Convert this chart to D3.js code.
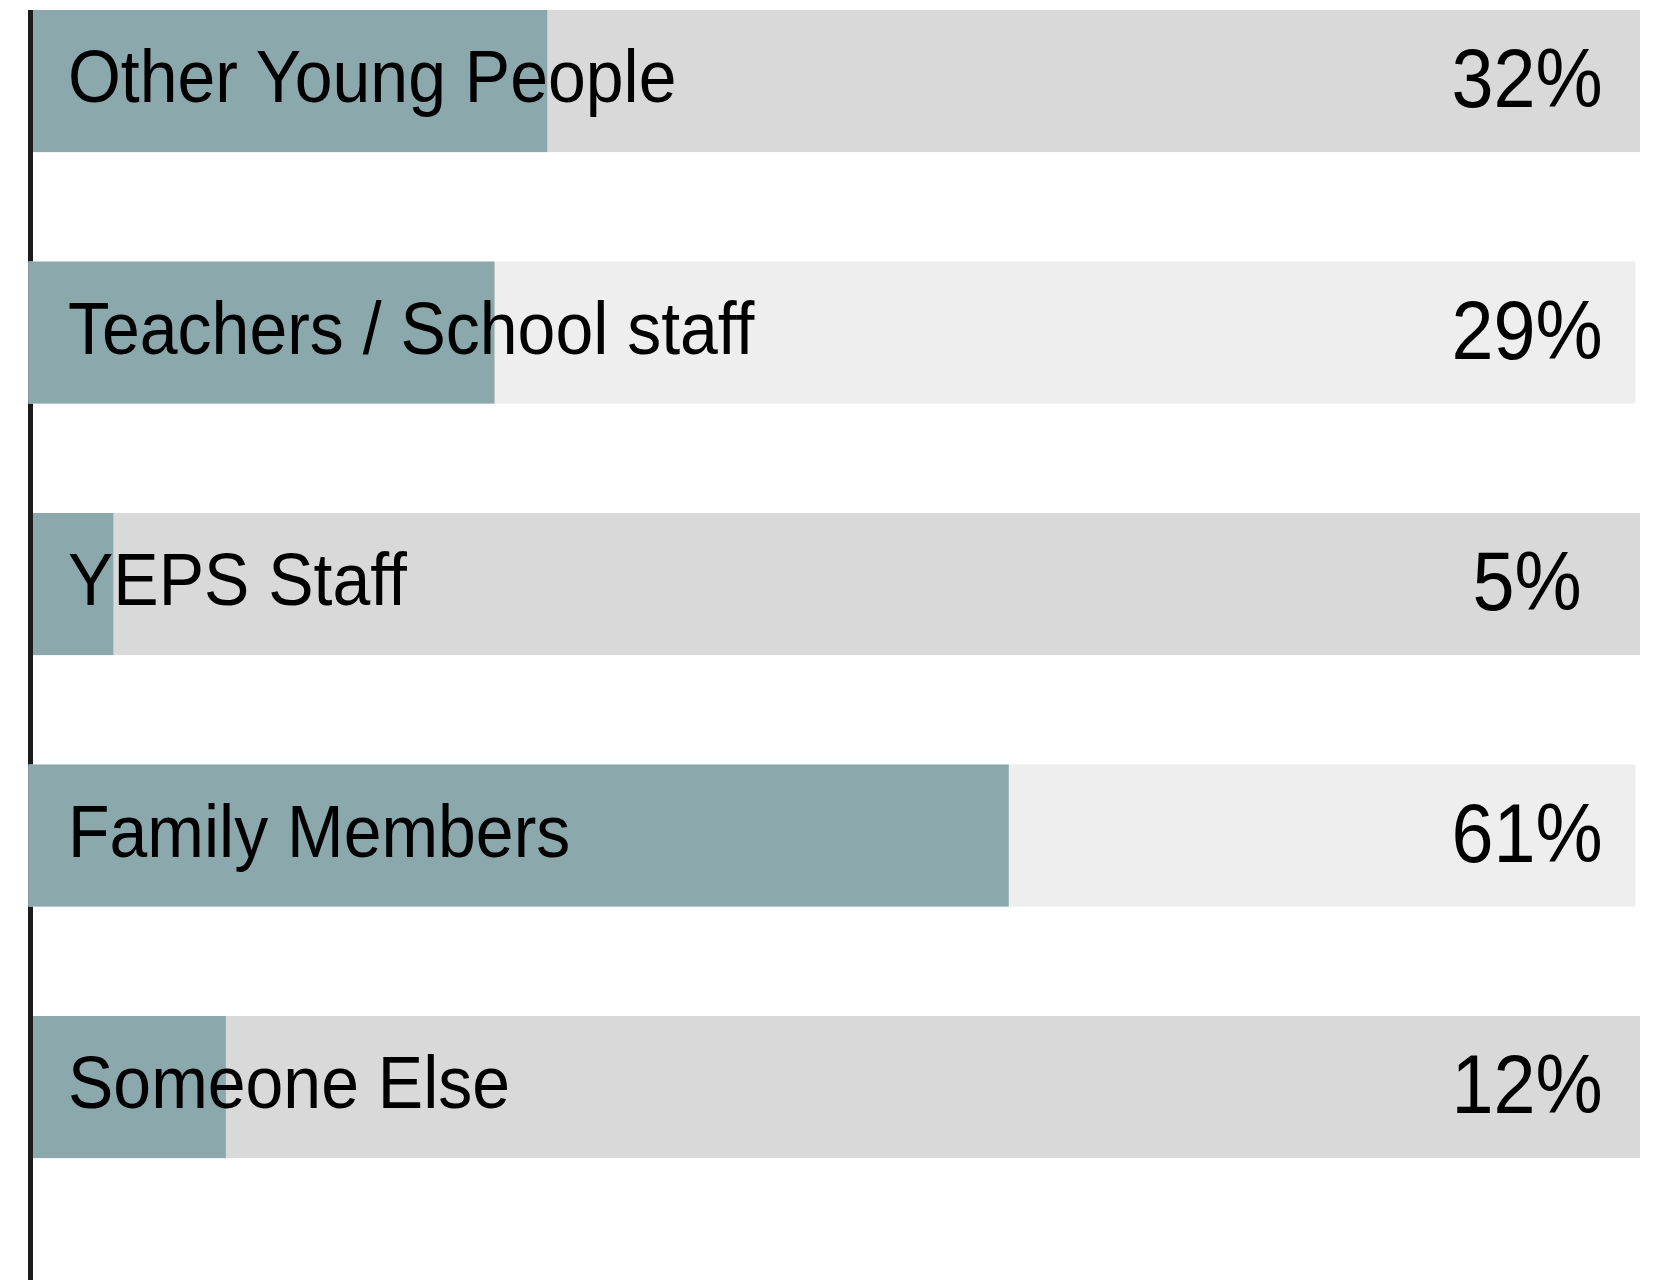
<!DOCTYPE html>
<html>
<head>
<meta charset="utf-8">
<script src="https://cdn.jsdelivr.net/npm/d3@7"></script>
<style>
  html, body { margin: 0; padding: 0; background: #fff; }
  svg { display: block; }
  text { font-family: "Liberation Sans", Arial, sans-serif; fill: #000; }
</style>
</head>
<body>
<svg id="chart" width="1664" height="1280"></svg>
<script>
// Who young people talk to
const categories = ["Other Young People", "Teachers / School staff", "YEPS Staff", "Family Members", "Someone Else"];
const values = [32, 29, 5, 61, 12];
const valueLabels = ["32%", "29%", "5%", "61%", "12%"];

const W = 1664, H = 1280;
const plotTop = 10;
const step = 251.5;
const padInner = 0.435;
const rowShift = [33, 28.5]; // odd / even row left edge
const trackWidth = 1607;
const labelSqueeze = 0.925;  // condensed horizontal text scale
const valueSqueeze = 0.91;

const svg = d3.select("#chart");

const x = d3.scaleLinear()
  .domain([0, 100])
  .range([0, trackWidth]);

const y = d3.scaleBand()
  .domain(categories)
  .range([plotTop, plotTop + step * (categories.length - padInner)])
  .paddingInner(padInner)
  .paddingOuter(0);

const trackColors = ["#d9d9d9", "#eeeeee"];
const barColor = "#8ba8ac";

// vertical axis line
svg.append("line")
  .attr("x1", 30.5).attr("x2", 30.5)
  .attr("y1", plotTop).attr("y2", H)
  .attr("stroke", "#1c1c1c").attr("stroke-width", 5);

const rows = svg.selectAll("g.row")
  .data(categories)
  .join("g")
  .attr("class", "row")
  .attr("transform", d => `translate(0,${y(d)})`);

const bars = rows.append("g")
  .attr("transform", (d, i) => `translate(${rowShift[i % 2]},0)`);

// full-width track
bars.append("rect")
  .attr("x", x(0))
  .attr("width", x(100) - x(0))
  .attr("height", y.bandwidth())
  .attr("fill", (d, i) => trackColors[i % 2]);

// value bar
bars.append("rect")
  .attr("x", x(0))
  .attr("width", (d, i) => x(values[i]) - x(0))
  .attr("height", y.bandwidth())
  .attr("fill", barColor);

// category labels
rows.append("text")
  .attr("transform", `translate(68,${y.bandwidth() / 2 + 21}) scale(${labelSqueeze},1)`)
  .attr("font-size", 73.5)
  .text(d => d);

// percentage labels
rows.append("text")
  .attr("transform", `translate(1527,${y.bandwidth() / 2 + 26}) scale(${valueSqueeze},1)`)
  .attr("text-anchor", "middle")
  .attr("font-size", 83)
  .text((d, i) => valueLabels[i]);
</script>
</body>
</html>
